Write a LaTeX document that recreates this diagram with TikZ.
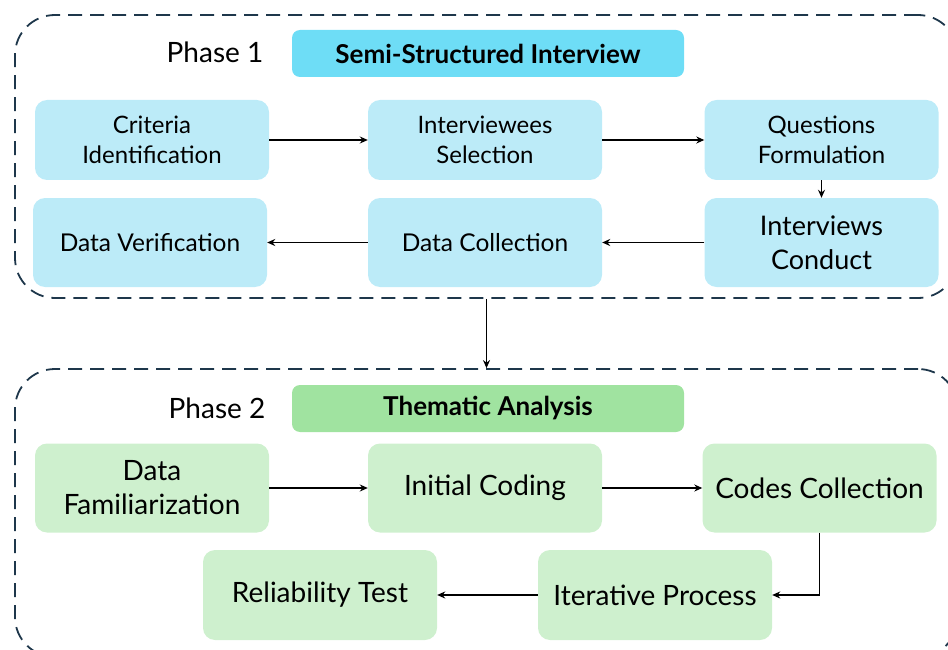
\documentclass[tikz,border=0pt]{standalone}
\usepackage{fontspec}
\setmainfont{Lato}
\usetikzlibrary{arrows.meta, positioning}

\definecolor{frameline}{RGB}{30,55,75}
\definecolor{titleblue}{RGB}{110,221,246}
\definecolor{stepblue}{RGB}{188,235,248}
\definecolor{titlegreen}{RGB}{160,227,160}
\definecolor{stepgreen}{RGB}{206,240,206}

\tikzset{
  phasebox/.style={draw=frameline, line width=1.8pt, dash pattern=on 14pt off 8pt,
    rounded corners=40pt, minimum width=943pt},
  titlebox/.style={rounded corners=8pt, minimum width=392pt, minimum height=47pt,
    inner sep=0pt, font=\bfseries\fontsize{26}{30}\selectfont},
  phaselabel/.style={font=\fontsize{28}{32}\selectfont},
  stepbox/.style={rounded corners=12pt, minimum width=234pt, inner sep=0pt, align=center},
  flow/.style={-{Stealth[length=8pt, width=7pt]}, line width=1.6pt},
}

\begin{document}
\begin{tikzpicture}[x=1pt, y=-1pt]
  \useasboundingbox (0,0) rectangle (948,650);

  % Phase frames
  \node[phasebox, minimum height=283pt] (frameA) at (486.5,156.5) {};
  \node[phasebox, minimum height=288pt] (frameB) at (486.5,513) {};

  % Phase 1: interview
  \node[phaselabel] (phaseA) at (215,52) {Phase 1};
  \node[titlebox, fill=titleblue] (titleA) at (488,53.5) {Semi-Structured Interview};

  \node[stepbox, fill=stepblue, minimum height=80pt, font=\fontsize{24}{30}\selectfont]
    (criteria) at (152,140) {Criteria\\Identification};
  \node[stepbox, fill=stepblue, minimum height=80pt, font=\fontsize{24}{30}\selectfont]
    (select) at (485,140) {Interviewees\\Selection};
  \node[stepbox, fill=stepblue, minimum height=80pt, font=\fontsize{24}{30}\selectfont]
    (questions) at (821.5,140) {Questions\\Formulation};
  \node[stepbox, fill=stepblue, minimum height=89pt, font=\fontsize{27}{34}\selectfont]
    (conduct) at (821.5,242.5) {Interviews\\Conduct};
  \node[stepbox, fill=stepblue, minimum height=89pt, font=\fontsize{24.5}{30}\selectfont]
    (collect) at (485,242.5) {Data Collection};
  \node[stepbox, fill=stepblue, minimum height=89pt, font=\fontsize{24.5}{30}\selectfont]
    (verify) at (150,242.5) {Data Verification};

  \draw[flow] (criteria) -- (select);
  \draw[flow] (select) -- (questions);
  \draw[flow] (questions) -- (conduct);
  \draw[flow] (conduct) -- (collect);
  \draw[flow] (collect) -- (verify);

  % Link between phases
  \draw[flow] (frameA.south) -- (frameB.north);

  % Phase 2: analysis
  \node[phaselabel] (phaseB) at (217,408) {Phase 2};
  \node[titlebox, fill=titlegreen] (titleB) at (488,408.5) {Thematic Analysis};

  \node[stepbox, fill=stepgreen, minimum height=89pt, font=\fontsize{28}{34}\selectfont]
    (familiar) at (152,488) {Data\\Familiarization};
  \node[stepbox, fill=stepgreen, minimum height=89pt, font=\fontsize{28}{34}\selectfont]
    (initial) at (485,488) {Initial Coding};
  \node[stepbox, fill=stepgreen, minimum height=89pt, font=\fontsize{28}{34}\selectfont]
    (codes) at (819.5,488) {Codes Collection};
  \node[stepbox, fill=stepgreen, minimum height=90pt, font=\fontsize{28}{34}\selectfont]
    (iterate) at (655,595) {Iterative Process};
  \node[stepbox, fill=stepgreen, minimum height=90pt, font=\fontsize{28}{34}\selectfont]
    (reliable) at (320,595) {Reliability Test};

  \draw[flow] (familiar) -- (initial);
  \draw[flow] (initial) -- (codes);
  \draw[flow] (codes.south) |- (iterate.east);
  \draw[flow] (iterate) -- (reliable);
\end{tikzpicture}
\end{document}
